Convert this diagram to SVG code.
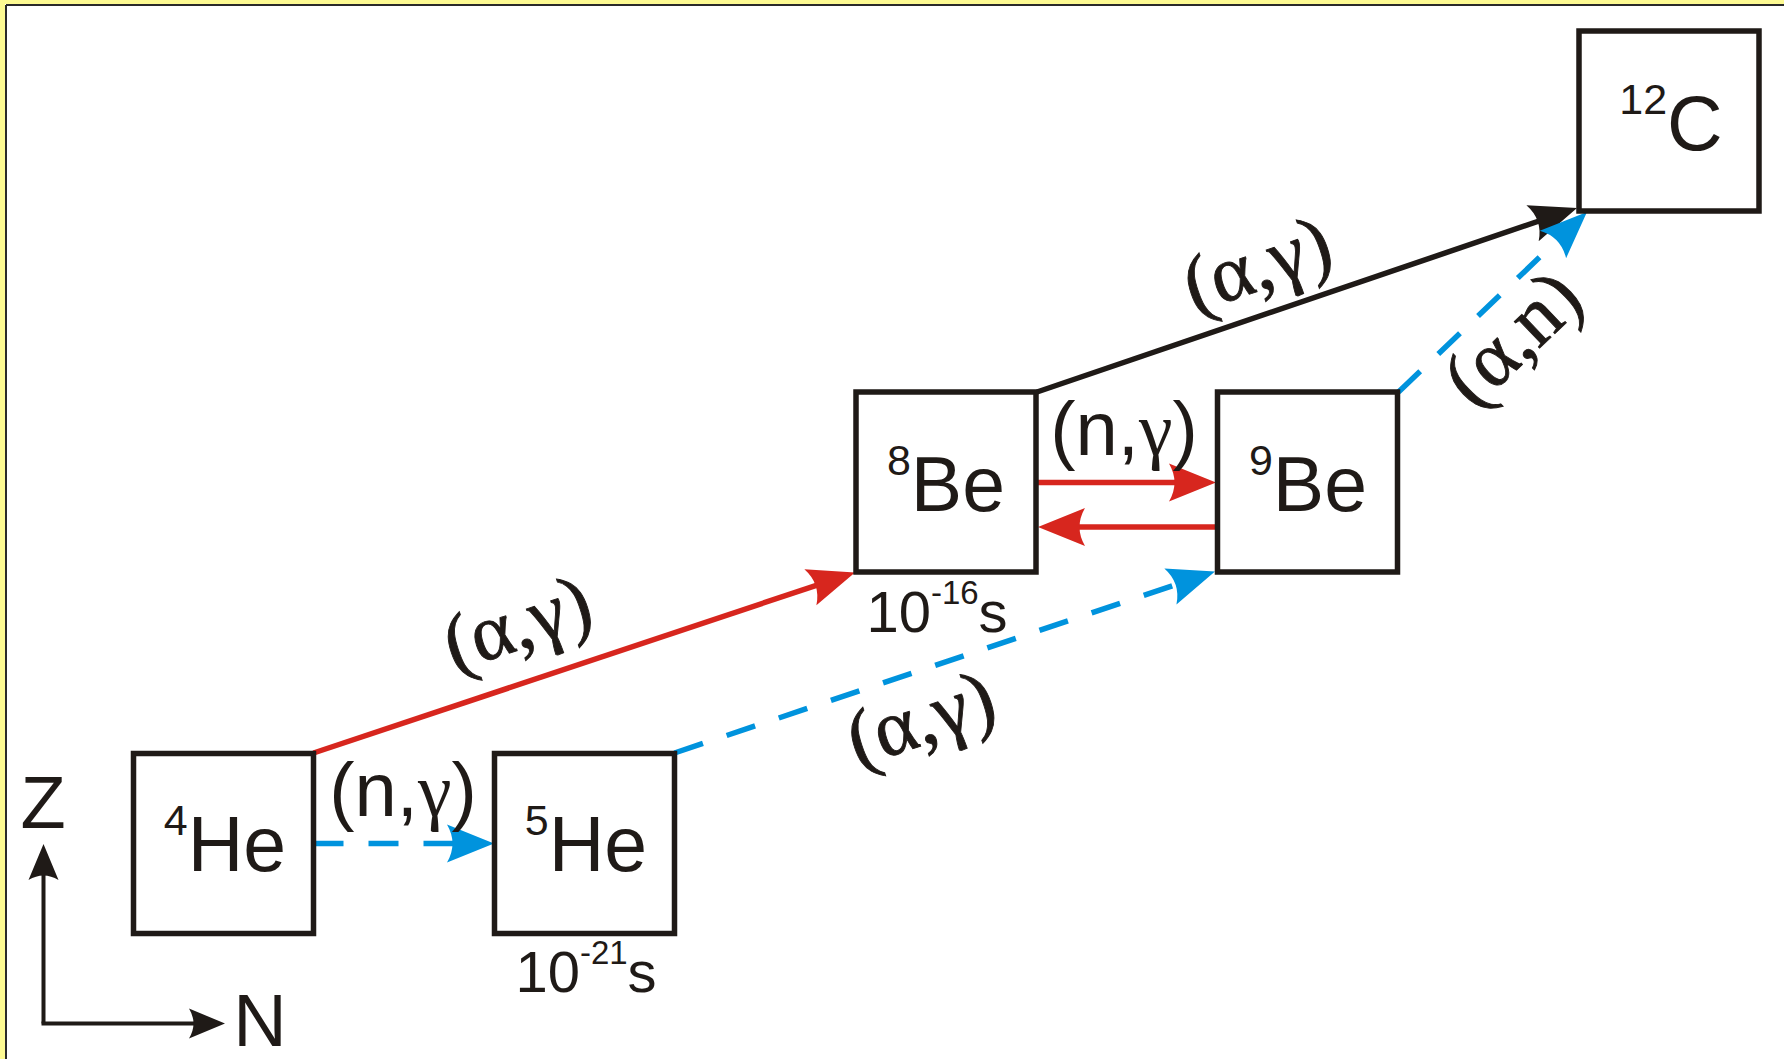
<svg xmlns="http://www.w3.org/2000/svg" width="1784" height="1059" viewBox="0 0 1784 1059">
<style>
.box{fill:#fff;stroke:#1f1a17;stroke-width:5.5}
.sans{font-family:"Liberation Sans",Arial,sans-serif;fill:#1f1a17}
.ser{font-family:"Liberation Serif","Times New Roman",serif;fill:#1f1a17}
.lbl{stroke:#1f1a17;stroke-width:0.9}
.red{stroke:#d7261e;stroke-width:5.5;fill:none}
.blue{stroke:#0093dd;stroke-width:5.5;fill:none;stroke-dasharray:30 25}
.black{stroke:#1f1a17;stroke-width:5.5;fill:none}
.axis{stroke:#1f1a17;stroke-width:4;fill:none}
</style>
<defs>
<marker id="hRed" markerUnits="userSpaceOnUse" orient="auto" refX="0" refY="0" markerWidth="60" markerHeight="60" overflow="visible"><path d="M20,0 L-27,-19 Q-16,0 -27,19 Z" fill="#d7261e"/></marker>
<marker id="hBlue" markerUnits="userSpaceOnUse" orient="auto" refX="0" refY="0" markerWidth="60" markerHeight="60" overflow="visible"><path d="M20,0 L-27,-19 Q-16,0 -27,19 Z" fill="#0093dd"/></marker>
<marker id="hBlack" markerUnits="userSpaceOnUse" orient="auto" refX="0" refY="0" markerWidth="60" markerHeight="60" overflow="visible"><path d="M20,0 L-27,-19 Q-16,0 -27,19 Z" fill="#1f1a17"/></marker>
<marker id="hAxis" markerUnits="userSpaceOnUse" orient="auto" refX="0" refY="0" markerWidth="60" markerHeight="60" overflow="visible"><path d="M12,0 L-24,-15 Q-15,0 -24,15 Z" fill="#1f1a17"/></marker>
</defs>
<rect x="0" y="0" width="1784" height="1059" fill="#fff"/>
<g id="frame">
<rect x="0" y="0" width="1784" height="4" fill="#fdfa92"/>
<rect x="0" y="0" width="5" height="1059" fill="#fdfa92"/>
<line x1="6" y1="5" x2="1784" y2="5" stroke="#2a2a2a" stroke-width="2"/>
<line x1="6" y1="5" x2="6" y2="1059" stroke="#2a2a2a" stroke-width="2"/>
</g>
<g id="connectors">
<line class="red" x1="313.5" y1="753" x2="836" y2="578.8" marker-end="url(#hRed)"/>
<line class="blue" x1="313.5" y1="843.5" x2="474" y2="843.5" marker-end="url(#hBlue)"/>
<line class="blue" x1="674.5" y1="753" x2="1196" y2="577.9" marker-end="url(#hBlue)"/>
<line class="red" x1="1037" y1="482.5" x2="1196" y2="482.5" marker-end="url(#hRed)"/>
<line class="red" x1="1217" y1="527" x2="1058" y2="527" marker-end="url(#hRed)"/>
<line class="black" x1="1037" y1="392" x2="1558.1" y2="214.5" marker-end="url(#hBlack)"/>
<line class="blue" x1="1398.5" y1="392" x2="1572.5" y2="225.8" marker-end="url(#hBlue)"/>
</g>
<g id="n4He"><rect class="box" x="133.5" y="753.5" width="180" height="180"/>
<text class="sans" x="225" y="871" text-anchor="middle" font-size="77"><tspan font-size="43" dy="-36">4</tspan><tspan dy="36">He</tspan></text></g>
<g id="n5He"><rect class="box" x="494.5" y="753.5" width="180" height="180"/>
<text class="sans" x="586" y="871" text-anchor="middle" font-size="77"><tspan font-size="43" dy="-36">5</tspan><tspan dy="36">He</tspan></text>
<text class="sans" x="586" y="992" text-anchor="middle" font-size="58">10<tspan font-size="33" dy="-28">-21</tspan><tspan dy="28">s</tspan></text></g>
<g id="n8Be"><rect class="box" x="856" y="392" width="180" height="180"/>
<text class="sans" x="946" y="511" text-anchor="middle" font-size="77"><tspan font-size="43" dy="-36">8</tspan><tspan dy="36">Be</tspan></text>
<text class="sans" x="937" y="632" text-anchor="middle" font-size="58">10<tspan font-size="33" dy="-28">-16</tspan><tspan dy="28">s</tspan></text></g>
<g id="n9Be"><rect class="box" x="1217.5" y="392" width="180" height="180"/>
<text class="sans" x="1308" y="511" text-anchor="middle" font-size="77"><tspan font-size="43" dy="-36">9</tspan><tspan dy="36">Be</tspan></text></g>
<g id="n12C"><rect class="box" x="1579" y="31" width="180" height="180"/>
<text class="sans" x="1671" y="150" text-anchor="middle" font-size="77"><tspan font-size="43" dy="-36">12</tspan><tspan dy="36">C</tspan></text></g>
<g id="labels">
<text class="sans" x="403" y="816" text-anchor="middle" font-size="76">(n,<tspan class="ser">γ</tspan>)</text>
<text class="sans" x="1124" y="455" text-anchor="middle" font-size="76">(n,<tspan class="ser">γ</tspan>)</text>
<g transform="translate(519,629) rotate(-18.4)"><text class="ser lbl" x="0" y="20" text-anchor="middle" font-size="80">(α,γ)</text></g>
<g transform="translate(922.5,724.5) rotate(-18.4)"><text class="ser lbl" x="0" y="20" text-anchor="middle" font-size="80">(α,γ)</text></g>
<g transform="translate(1259,270) rotate(-18.7)"><text class="ser lbl" x="0" y="20" text-anchor="middle" font-size="80">(α,γ)</text></g>
<g transform="translate(1516.5,342.5) rotate(-43.6)"><text class="ser lbl" x="0" y="20" text-anchor="middle" font-size="80">(α,n)</text></g>
</g>
<g id="axes">
<path class="axis" d="M43.5,1023.5 V856" marker-end="url(#hAxis)"/>
<path class="axis" d="M41.5,1023.5 H213" marker-end="url(#hAxis)"/>
<text class="sans" x="43" y="828" text-anchor="middle" font-size="74">Z</text>
<text class="sans" x="260" y="1046" text-anchor="middle" font-size="74">N</text>
</g>
</svg>
